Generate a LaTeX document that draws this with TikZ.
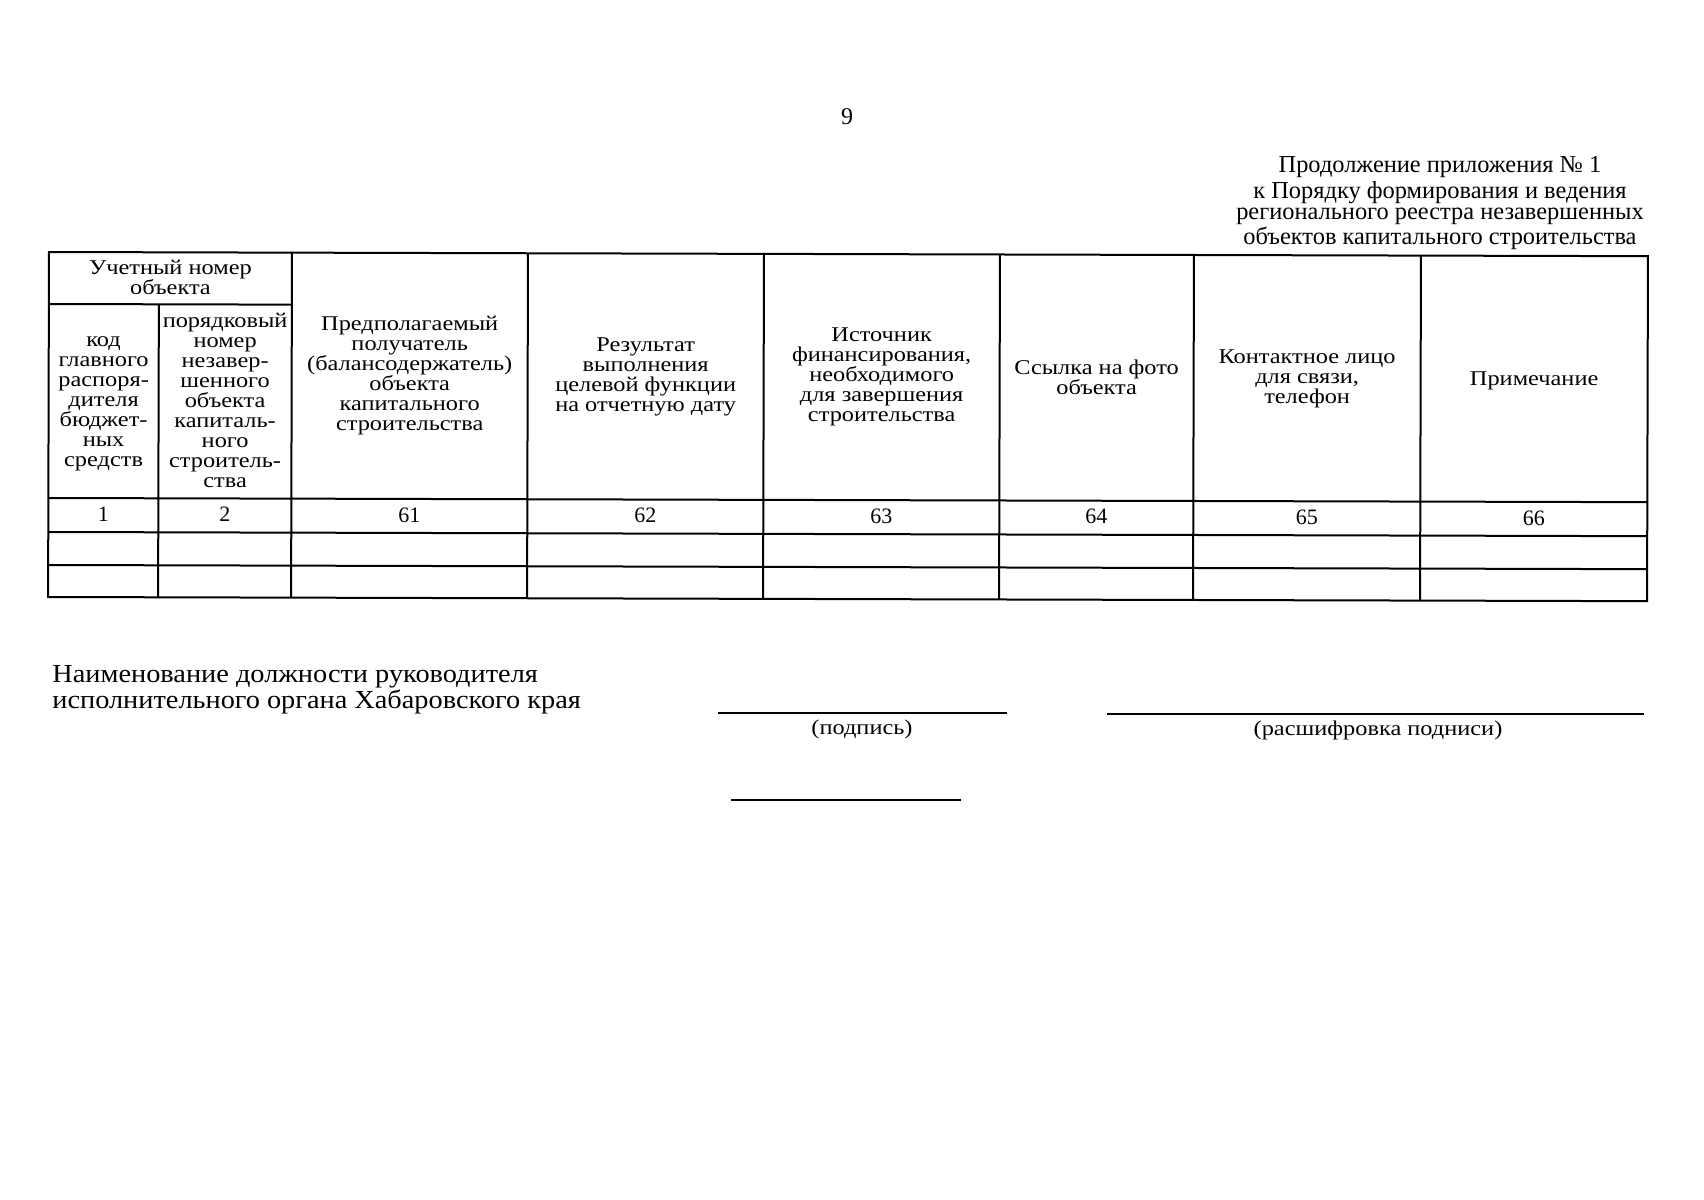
\documentclass[tikz,border=0pt]{standalone}
\usepackage{fontspec}
\setmainfont{Liberation Serif}
\newfontfamily\wideserif[FakeStretch=1.16]{Liberation Serif}
\newfontfamily\midserif[FakeStretch=1.09]{Liberation Serif}
\begin{document}
\begin{tikzpicture}[x=0.5pt,y=-0.5pt,
  grid/.style={line width=1pt},
  hdr/.style={align=center,inner sep=0pt,font=\wideserif\fontsize{10.5}{10}\selectfont},
  num/.style={inner sep=0pt,font=\fontsize{11}{10}\selectfont},
  sigline/.style={line width=0.8pt},
  siglabel/.style={inner sep=0pt,font=\wideserif\fontsize{10.5}{11}\selectfont}]
\useasboundingbox (0,0) rectangle (1704,1200);
\fill[white] (0,0) rectangle (1704,1200);

\node[inner sep=0pt,font=\fontsize{12}{12}\selectfont] (pg) at (847,117) {9};
\node[inner sep=0pt,align=center,font=\fontsize{12.2}{10.4}\selectfont] (ap) at (1440,203)
  {Продолжение приложения № 1\\[1pt]к Порядку формирования и ведения\\регионального реестра незавершенных\\объектов капитального строительства};

\begin{scope}[rotate around={-0.15:(49,252)}]
  \draw[grid] (49,252) rectangle (1648,597);
  \foreach \x in {292,528,764,1000,1194,1421} \draw[grid] (\x,252) -- (\x,597);
  \draw[grid] (159,304) -- (159,597);
  \draw[grid] (49,304) -- (292,304);
  \foreach \y in {498,532,565} \draw[grid] (49,\y) -- (1648,\y);

  \node[hdr] (h12) at (170.5,277) {Учетный номер\\объекта};
  \node[hdr] (h1) at (104,404) {код\\главного\\распоря-\\дителя\\бюджет-\\ных\\средств};
  \node[hdr] (h2) at (225.5,400) {порядковый\\номер\\незавер-\\шенного\\объекта\\капиталь-\\ного\\строитель-\\ства};
  \node[hdr] (h3) at (410,375) {Предполагаемый\\получатель\\(балансодержатель)\\объекта\\капитального\\строительства};
  \node[hdr] (h4) at (646,375) {Результат\\выполнения\\целевой функции\\на отчетную дату};
  \node[hdr] (h5) at (882,375) {Источник\\финансирования,\\необходимого\\для завершения\\строительства};
  \node[hdr] (h6) at (1097,375) {Ссылка на фото\\объекта};
  \node[hdr] (h7) at (1307.5,376) {Контактное лицо\\для связи,\\телефон};
  \node[hdr] (h8) at (1534.5,377) {Примечание};

  \node[num] (n1) at (104,514) {1};
  \node[num] (n2) at (225.5,514) {2};
  \node[num] (n3) at (410,514) {61};
  \node[num] (n4) at (646,514) {62};
  \node[num] (n5) at (882,514) {63};
  \node[num] (n6) at (1097,514) {64};
  \node[num] (n7) at (1307.5,514) {65};
  \node[num] (n8) at (1534.5,514) {66};
\end{scope}

\node[inner sep=0pt,anchor=west,align=left,font=\midserif\fontsize{13}{10.9}\selectfont] (pos) at (52,690)
  {Наименование должности руководителя\\исполнительного органа Хабаровского края};

\coordinate (s1a) at (718,713);
\coordinate (s1b) at (1007,713);
\coordinate (s2a) at (1107,714);
\coordinate (s2b) at (1644,714);
\coordinate (s3a) at (731,800);
\coordinate (s3b) at (961,800);
\draw[sigline] (s1a) -- (s1b);
\draw[sigline] (s2a) -- (s2b);
\draw[sigline] (s3a) -- (s3b);
\node[siglabel] (sl1) at (862,729) {(подпись)};
\node[siglabel] (sl2) at (1378,730) {(расшифровка подниси)};
\end{tikzpicture}
\end{document}
